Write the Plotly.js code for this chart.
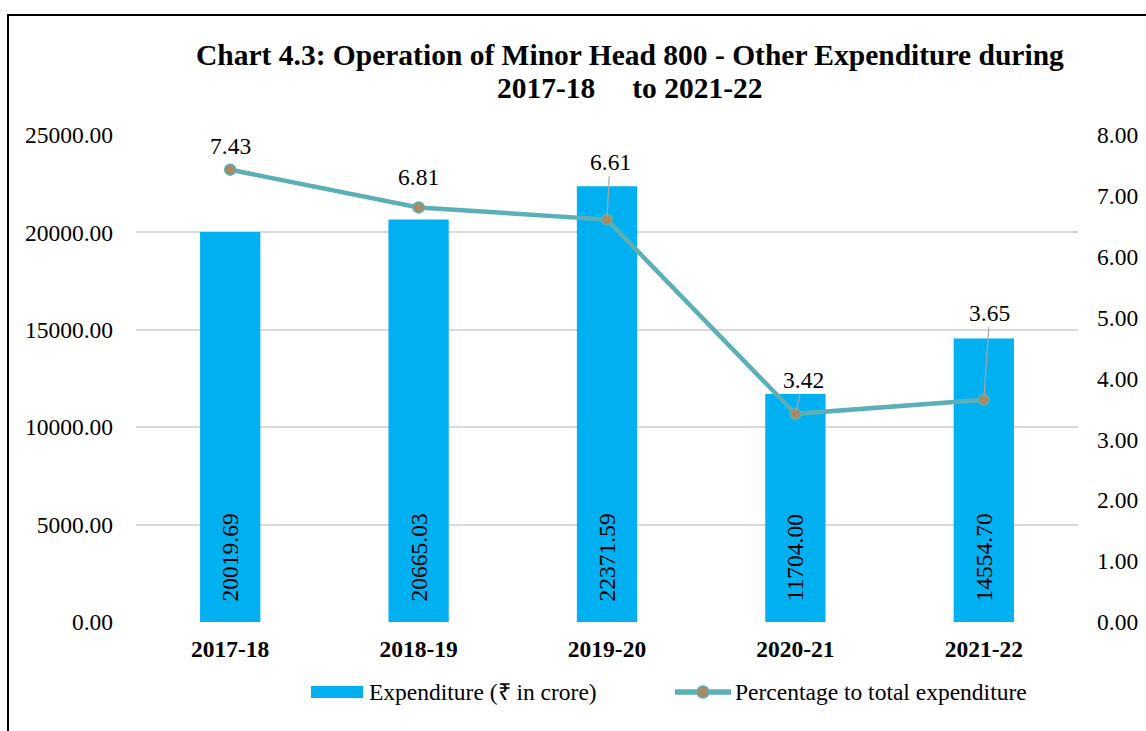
<!DOCTYPE html>
<html>
<head>
<meta charset="utf-8">
<script src="https://cdn.plot.ly/plotly-3.0.1.min.js"></script>
<style>
html,body{margin:0;padding:0;background:#fff;overflow:hidden;}
#frame{position:absolute;left:7px;top:14px;width:1200px;height:800px;border-left:2px solid #000;border-top:2px solid #000;pointer-events:none;z-index:5;}
#chart{width:1146px;height:731px;}
</style>
</head>
<body>
<div id="frame"></div>
<div id="chart"></div>
<script>
const years = ["2017-18", "2018-19", "2019-20", "2020-21", "2021-22"];
const expenditure = [20019.69, 20665.03, 22371.59, 11704.00, 14554.70];
const percentage = [7.43, 6.81, 6.61, 3.42, 3.65];
const leftTicks = [0, 5000, 10000, 15000, 20000, 25000];
const rightTicks = [0, 1, 2, 3, 4, 5, 6, 7, 8];
const seriesNames = ['Expenditure (₹ in crore)', 'Percentage to total expenditure'];
const titleLines = ['Chart 4.3: Operation of Minor Head 800 - Other Expenditure during', '2017-18\u00a0\u00a0\u00a0\u00a0 to 2021-22'];

// label offsets for percentage labels (pixels)
const labelOffsets = [
  {ax: 0, ay: -24, arrow: false},
  {ax: 0, ay: -30, arrow: false},
  {ax: 3, ay: -58, arrow: true},
  {ax: 8, ay: -34, arrow: true},
  {ax: 6, ay: -87, arrow: true}
];

const serif = "'Liberation Serif', 'Times New Roman', serif";
const barColor = '#00B0F0';
const lineColor = '#5BB0B8';
const markerColor = '#A88B64';
const FS = 23.5;

const barTrace = {
  type: 'bar',
  x: years,
  y: expenditure,
  name: seriesNames[0],
  marker: {color: barColor},
  width: 0.32,
  text: expenditure.map(v => '\u00a0\u00a0\u00a0' + v.toFixed(2)),
  textposition: 'inside',
  insidetextanchor: 'start',
  textangle: -90,
  textfont: {family: serif, size: FS, color: '#000'},
  cliponaxis: false,
  hoverinfo: 'skip',
  showlegend: false
};

const lineTrace = {
  type: 'scatter',
  mode: 'lines+markers',
  x: years,
  y: percentage,
  yaxis: 'y2',
  name: seriesNames[1],
  line: {color: lineColor, width: 4.5},
  marker: {color: markerColor, size: 11, line: {color: lineColor, width: 1.5}},
  hoverinfo: 'skip',
  showlegend: false
};

const annotations = percentage.map((p, i) => {
  const o = labelOffsets[i];
  if (o.arrow) {
    return {
      x: years[i], y: p, xref: 'x', yref: 'y2',
      text: p.toFixed(2), showarrow: true, arrowhead: 0,
      arrowcolor: '#A6A6A6', arrowwidth: 1.2,
      ax: o.ax, ay: o.ay, standoff: 3,
      font: {family: serif, size: FS, color: '#000'}
    };
  }
  return {
    x: years[i], y: p, xref: 'x', yref: 'y2',
    text: p.toFixed(2), showarrow: false, yshift: -o.ay,
    font: {family: serif, size: FS, color: '#000'}
  };
});

// title lines
annotations.push({
  xref: 'paper', yref: 'paper', x: 0.5239, y: 1.1643, xanchor: 'center', yanchor: 'middle',
  text: '<b>' + titleLines[0] + '</b>', showarrow: false,
  font: {family: serif, size: 29.5, color: '#000'}
});
annotations.push({
  xref: 'paper', yref: 'paper', x: 0.5239, y: 1.0965, xanchor: 'center', yanchor: 'middle',
  text: '<b>' + titleLines[1] + '</b>', showarrow: false,
  font: {family: serif, size: 29.5, color: '#000'}
});
// legend texts
annotations.push({
  xref: 'paper', yref: 'paper', x: 0.2452, y: -0.1437, xanchor: 'left', yanchor: 'middle',
  text: seriesNames[0], showarrow: false,
  font: {family: serif, size: FS, color: '#000'}
});
annotations.push({
  xref: 'paper', yref: 'paper', x: 0.6338, y: -0.1437, xanchor: 'left', yanchor: 'middle',
  text: seriesNames[1], showarrow: false,
  font: {family: serif, size: FS, color: '#000'}
});

const shapes = [
  {type: 'rect', xref: 'paper', yref: 'paper', x0: 0.1858, x1: 0.2410, y0: -0.1561, y1: -0.1314,
   fillcolor: barColor, line: {width: 0}},
  {type: 'line', xref: 'paper', yref: 'paper', x0: 0.5722, x1: 0.6316, y0: -0.1437, y1: -0.1437,
   line: {color: lineColor, width: 5.5}},
  {type: 'circle', xref: 'paper', yref: 'paper', x0: 0.6019 - 0.00637, x1: 0.6019 + 0.00637,
   y0: -0.1437 - 0.01232, y1: -0.1437 + 0.01232,
   fillcolor: markerColor, line: {color: lineColor, width: 1.5}}
];

const layout = {
  width: 1146, height: 731,
  margin: {l: 136, r: 68, t: 135, b: 109},
  paper_bgcolor: '#fff', plot_bgcolor: '#fff',
  font: {family: serif, color: '#000'},
  xaxis: {
    type: 'category',
    tickfont: {family: serif, size: FS, color: '#000'},
    showline: false, ticks: '', showgrid: false,
    tickvals: years, ticktext: years.map(y => '<b>' + y + '</b>'),
    ticklabelstandoff: 10
  },
  yaxis: {
    range: [0, 25000],
    tickvals: leftTicks,
    ticktext: leftTicks.map(v => v.toFixed(2)),
    tickfont: {family: serif, size: FS, color: '#000'},
    gridcolor: '#D9D9D9', gridwidth: 2,
    zeroline: false, showline: false, ticks: '',
    ticklabelstandoff: 22
  },
  yaxis2: {
    overlaying: 'y', side: 'right',
    range: [0, 8],
    tickvals: rightTicks,
    ticktext: rightTicks.map(v => v.toFixed(2)),
    tickfont: {family: serif, size: FS, color: '#000'},
    showgrid: false, zeroline: false, showline: false, ticks: '',
    ticklabelstandoff: 18
  },
  showlegend: false,
  annotations: annotations,
  shapes: shapes
};

Plotly.newPlot('chart', [barTrace, lineTrace], layout, {displayModeBar: false, staticPlot: true});
</script>
</body>
</html>
